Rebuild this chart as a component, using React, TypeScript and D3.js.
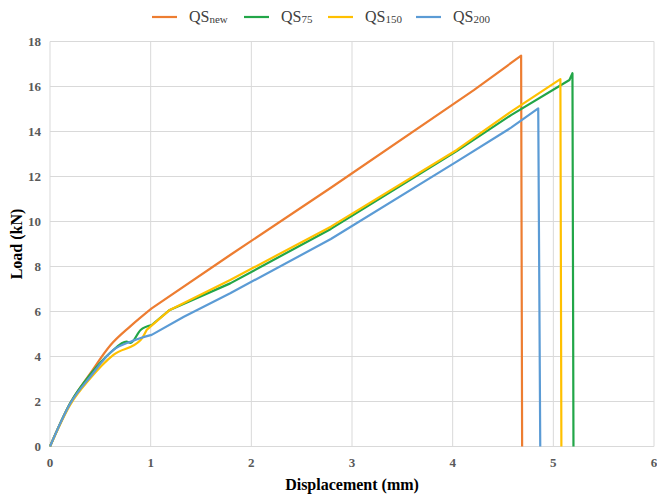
import React from "react";
import * as d3 from "d3";

type Pt = [number, number];

const seriesNames = ["new", "75", "150", "200"];
const seriesColors = ["#ED7D31", "#22A648", "#FFC000", "#5B9BD5"];

const qsNew: Pt[] = [[0,0],[0.2,1.92],[0.4,3.25],[0.6,4.5],[0.8,5.35],[1.01,6.14],[1.79,8.51],[2.79,11.5],[4.21,15.84],[4.68,17.37],[4.69,0]];
const qs75: Pt[] = [[0,0],[0.2,1.92],[0.4,3.2],[0.61,4.21],[0.76,4.66],[0.8,4.6],[0.9,5.18],[1.01,5.4],[1.19,6.07],[1.79,7.25],[2.79,9.67],[4.04,13.13],[4.58,14.73],[5.16,16.29],[5.19,16.59],[5.2,0]];
const qs150: Pt[] = [[0,0],[0.2,1.85],[0.4,3.03],[0.63,4.07],[0.9,4.73],[0.96,5.18],[1.19,6.07],[1.79,7.4],[2.79,9.77],[4.04,13.18],[4.58,14.88],[5.07,16.33],[5.08,0]];
const qs200: Pt[] = [[0,0],[0.2,1.9],[0.4,3.1],[0.63,4.29],[0.8,4.66],[1.01,4.96],[1.33,5.77],[1.79,6.81],[2.79,9.22],[4.04,12.66],[4.58,14.17],[4.85,15.03],[4.87,0]];

const xTicks = [0, 1, 2, 3, 4, 5, 6];
const yTicks = [0, 2, 4, 6, 8, 10, 12, 14, 16, 18];

const allSeries = [qsNew, qs75, qs150, qs200];

const legendX = [152, 244, 328, 416];

export default function App() {
  const x = d3.scaleLinear().domain([0, 6]).range([50, 654]);
  const y = d3.scaleLinear().domain([0, 18]).range([446.5, 41.5]);
  const smooth = d3.line<Pt>().x(d => x(d[0])).y(d => y(d[1])).curve(d3.curveMonotoneX);
  const pathFor = (s: Pt[]) => {
    const head = s.filter(d => d[0] <= 1.02);
    const tail = s.slice(head.length);
    return (smooth(head) || "") + tail.map(d => `L${x(d[0])},${y(d[1])}`).join("");
  };
  const font = "'Liberation Serif', 'Times New Roman', serif";
  return (
    <svg width={657} height={495} style={{ position: "absolute", left: 0, top: 0, background: "#fff" }}>
      {yTicks.map(t => (
        <line key={"gy" + t} x1={x(0)} x2={x(6)} y1={y(t)} y2={y(t)} stroke="#d9d9d9" strokeWidth={1} />
      ))}
      {xTicks.map(t => (
        <line key={"gx" + t} x1={x(t)} x2={x(t)} y1={y(0)} y2={y(18)} stroke="#d9d9d9" strokeWidth={1} />
      ))}
      {yTicks.map(t => (
        <text key={"ty" + t} x={41} y={y(t)} dy="0.35em" textAnchor="end" fontFamily={font} fontWeight="bold" fontSize={13} fill="#595959">{t}</text>
      ))}
      {xTicks.map(t => (
        <text key={"tx" + t} x={x(t)} y={467} textAnchor="middle" fontFamily={font} fontWeight="bold" fontSize={13} fill="#595959">{t}</text>
      ))}
      {allSeries.map((s, i) => (
        <path key={"s" + i} d={pathFor(s)} fill="none" stroke={seriesColors[i]} strokeWidth={2.2} strokeLinejoin="round" />
      ))}
      <text x={352} y={490} textAnchor="middle" fontFamily={font} fontWeight="bold" fontSize={16} fill="#000">Displacement (mm)</text>
      <text transform={`translate(22, ${y(9)}) rotate(-90)`} textAnchor="middle" fontFamily={font} fontWeight="bold" fontSize={16} fill="#000">Load (kN)</text>
      {seriesNames.map((n, i) => (
        <g key={"lg" + i}>
          <line x1={legendX[i]} x2={legendX[i] + 25} y1={17} y2={17} stroke={seriesColors[i]} strokeWidth={2.2} />
          <text x={legendX[i] + 37} y={22} fontFamily={font} fontSize={16} fill="#404040">
            QS<tspan fontSize={11} dy={1}>{n}</tspan>
          </text>
        </g>
      ))}
    </svg>
  );
}
